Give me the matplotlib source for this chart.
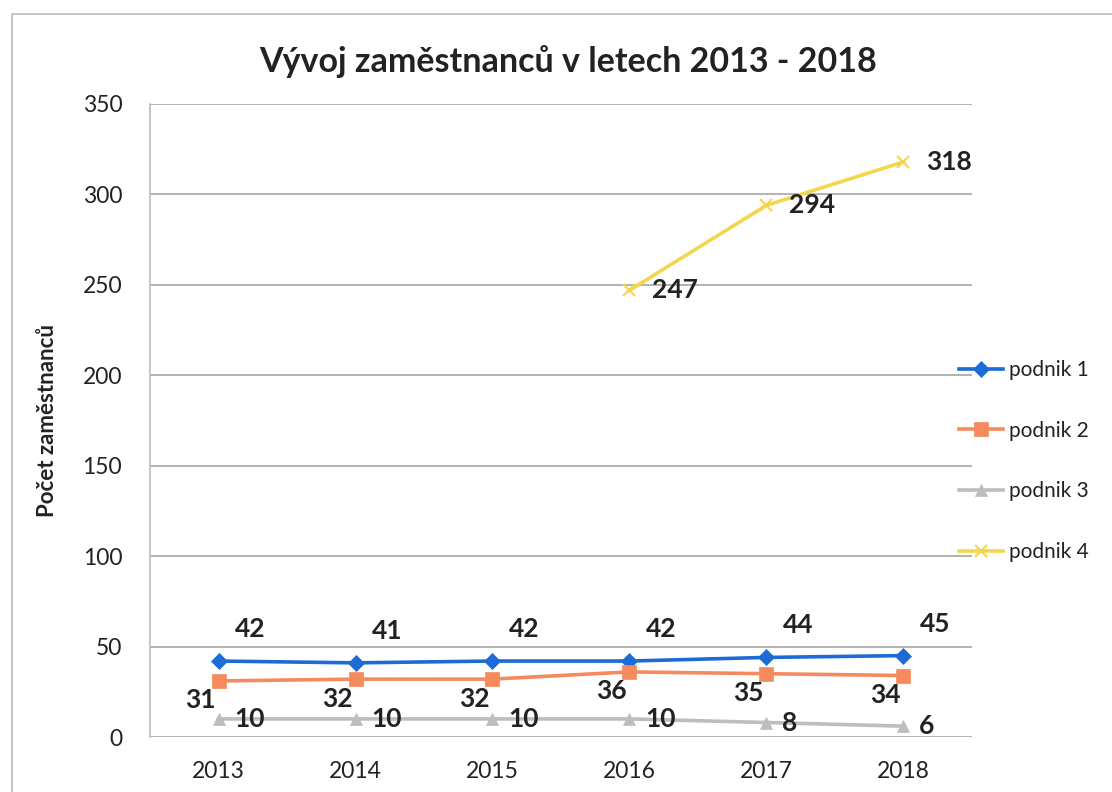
import numpy as np
import matplotlib.pyplot as plt
from matplotlib.patches import Rectangle

plt.rcParams["font.family"] = ["Lato", "DejaVu Sans"]

# -- data ------------------------------------------------
years = ["2013", "2014", "2015", "2016", "2017", "2018"]
podnik1 = [42, 41, 42, 42, 44, 45]
podnik2 = [31, 32, 32, 36, 35, 34]
podnik3 = [10, 10, 10, 10, 8, 6]
podnik4 = [np.nan, np.nan, np.nan, 247, 294, 318]
names = ["podnik 1", "podnik 2", "podnik 3", "podnik 4"]

# -- colours ------------------------------------------------
BLUE = "#1C6BD6"
ORANGE = "#F48A5E"
GRAY = "#BDBDBD"
YELLOW = "#F4D64E"
GRID = "#9E9E9E"
TEXT = "#222222"

fig = plt.figure(figsize=(11.12, 7.92), dpi=100)
fig.patches.append(Rectangle((12 / 1112, -0.1), 1.2, 1 - 14 / 792 + 0.1,
                             transform=fig.transFigure, fill=False,
                             edgecolor="#BBBBBB", lw=1.2))

ax = fig.add_axes([150 / 1112, 1 - 737 / 792, 822 / 1112, 633 / 792])
x = np.arange(len(years))

series = [
    (podnik1, BLUE, "D", 8, (12, 23), "left"),
    (podnik2, ORANGE, "s", 10, (-13, -14), "center"),
    (podnik3, GRAY, "^", 9, (11, 0), "left"),
    (podnik4, YELLOW, "x", 9, (16, 0), "left"),
]

for (vals, col, mk, ms, off, ha), name in zip(series, names):
    ax.plot(x, vals, color=col, lw=2.6, marker=mk, markersize=ms,
            markeredgewidth=1.5 if mk == "x" else 0.5, label=name, zorder=3)
    for xi, v in zip(x, vals):
        if np.isnan(v):
            continue
        ax.annotate(f"{v:g}", (xi, v), textcoords="offset points", xytext=off,
                    ha=ha, va="center", fontsize=19, fontweight="bold",
                    color=TEXT, zorder=4)

ax.set_xlim(-0.5, 5.5)
ax.set_ylim(0, 350)
ax.set_yticks(np.arange(0, 351, 50))
ax.set_xticks(x)
ax.set_xticklabels(years)
ax.tick_params(axis="both", length=0, labelsize=16.5, colors=TEXT)
ax.tick_params(axis="x", pad=17)
ax.tick_params(axis="y", pad=20)
ax.grid(axis="y", color=GRID, lw=1.1)
ax.set_axisbelow(True)
for s in ["top", "right", "bottom"]:
    ax.spines[s].set_visible(False)
ax.spines["left"].set_color("#BBBBBB")
ax.spines["left"].set_linewidth(1.2)

ax.set_ylabel("Počet zaměstnanců", fontsize=16, fontweight="bold",
              color=TEXT)
ax.yaxis.set_label_coords(-92 / 822, 0.5)
fig.suptitle("Vývoj zaměstnanců v letech 2013 - 2018", x=568 / 1112,
             y=1 - 62 / 792, va="center", fontsize=24.5, fontweight="bold",
             color=TEXT)

fig.legend(loc="center left", bbox_to_anchor=(955 / 1112, 1 - 461 / 792),
           frameon=False, fontsize=15, labelspacing=1.95, handlelength=2.1,
           handletextpad=0.3, borderaxespad=0, borderpad=0.2,
           labelcolor=TEXT)

fig.savefig("out.png", dpi=100, facecolor="white")
